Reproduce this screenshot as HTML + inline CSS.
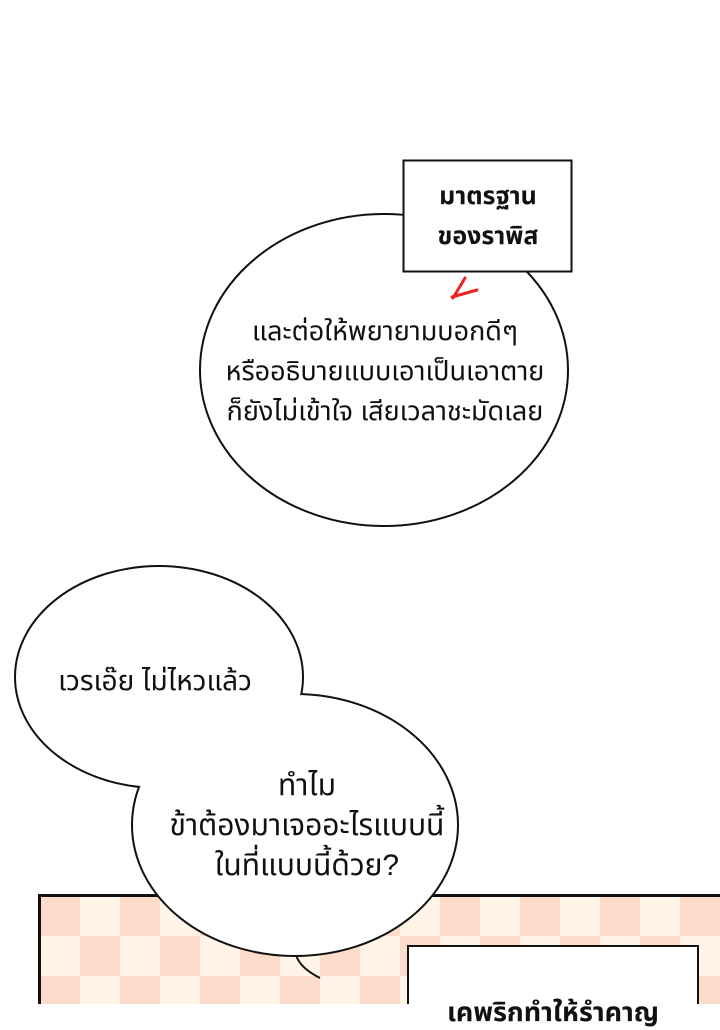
<!DOCTYPE html>
<html><head><meta charset="utf-8"><style>
html,body{margin:0;padding:0;background:#fff;}
body{width:720px;height:1004px;position:relative;overflow:hidden;font-family:"Liberation Sans","Noto Sans Thai","Loma","Garuda",sans-serif;}
.t{position:absolute;text-align:center;color:#111;white-space:nowrap;}
</style></head><body>
<svg width="720" height="1004" style="position:absolute;left:0;top:0">
<defs>
<pattern id="ck" x="40" y="896" width="80" height="80" patternUnits="userSpaceOnUse">
<rect width="80" height="80" fill="#fff4e6"/>
<rect width="40" height="40" fill="#fddccb"/>
<rect x="40" y="40" width="40" height="40" fill="#fddccb"/>
</pattern>
</defs>
<rect x="39.5" y="895.5" width="700" height="120" fill="url(#ck)" stroke="#111" stroke-width="3"/>
<rect x="408" y="946" width="290" height="70" fill="#fff" stroke="#111" stroke-width="2"/>
<ellipse cx="384" cy="370" rx="184" ry="156" fill="#fff" stroke="#111" stroke-width="2"/>
<rect x="403.5" y="160.5" width="168" height="111" fill="#fff" stroke="#111" stroke-width="2"/>
<path d="M465 278 L453 298 M452 297 L477 290" stroke="#e22" stroke-width="3" fill="none" stroke-linecap="round"/>
<path d="M296 955 Q300 968 320 978" stroke="#111" stroke-width="2" fill="none"/>
<ellipse cx="159" cy="677" rx="143" ry="110" fill="#fff" stroke="#111" stroke-width="4"/>
<ellipse cx="295" cy="825" rx="162" ry="130" fill="#fff" stroke="#111" stroke-width="4"/>
<ellipse cx="159" cy="677" rx="143" ry="110" fill="#fff"/>
<ellipse cx="295" cy="825" rx="162" ry="130" fill="#fff"/>
</svg>
<div class="t" style="left:404px;top:176px;width:168px;font-size:25px;font-weight:bold;line-height:40px;">มาตรฐาน<br>ของราพิส</div>
<div class="t" style="left:185px;top:311px;width:400px;font-size:27px;line-height:40px;">และต่อให้พยายามบอกดีๆ<br>หรืออธิบายแบบเอาเป็นเอาตาย<br>ก็ยังไม่เข้าใจ เสียเวลาชะมัดเลย</div>
<div class="t" style="left:30px;top:661px;width:250px;font-size:28px;line-height:40px;">เวรเอ๊ย ไม่ไหวแล้ว</div>
<div class="t" style="left:142px;top:766px;width:330px;font-size:30px;line-height:40px;">ทำไม<br>ข้าต้องมาเจออะไรแบบนี้<br>ในที่แบบนี้ด้วย?</div>
<div class="t" style="left:408px;top:994px;width:290px;font-size:27px;font-weight:bold;line-height:36px;">เคพริกทำให้รำคาญ</div>
</body></html>
